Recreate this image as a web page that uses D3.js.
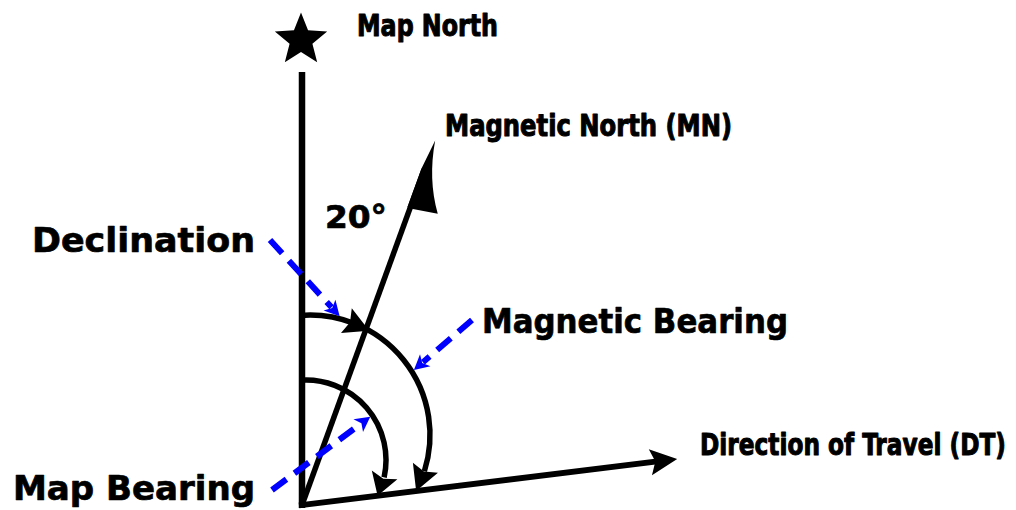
<!DOCTYPE html>
<html><head><meta charset="utf-8">
<script src="https://cdn.jsdelivr.net/npm/d3@7"></script>
<style>html,body{margin:0;padding:0;background:#fff;overflow:hidden}</style>
</head><body>
<svg id="c" width="1016" height="510" xmlns="http://www.w3.org/2000/svg"></svg>
<script>
// ---------------- DATA ----------------
const directionNames = ["Map North", "Magnetic North (MN)", "Direction of Travel (DT)"];
const directionBearings = [0, 20, 83];          // degrees clockwise from map north
const angleNames = ["Declination", "Magnetic Bearing", "Map Bearing"];
const angleFrom = [0, 1, 0];                    // index into directions
const angleTo = [1, 2, 2];
const declinationLabel = "20°";

// ---------------- LAYOUT ----------------
const svg = d3.select("#c");
const O = [302, 505];
const rad = d3.scaleLinear().domain([0, 360]).range([0, 2 * Math.PI]);
const unit = b => [Math.sin(rad(b)), -Math.cos(rad(b))];
const perp = b => [Math.cos(rad(b)), Math.sin(rad(b))];
const lineLen = [433, 387, 378];
const line = d3.line();
const BLUE = "#0000ff";

function at(bi, a, n) {
  const u = unit(directionBearings[bi]), p = perp(directionBearings[bi]);
  const L = lineLen[bi];
  return [O[0] + (L + a) * u[0] + n * p[0], O[1] + (L + a) * u[1] + n * p[1]];
}

// Map north line + star
{
  const u = unit(directionBearings[0]);
  svg.append("path").attr("d", line([[O[0] - 3 * u[0], O[1] - 3 * u[1]], at(0, 0, 0)]))
    .attr("stroke", "#000").attr("stroke-width", 6.5).attr("fill", "none");
  const sc = [O[0] + (lineLen[0] + 32) * u[0] - 1, O[1] + (lineLen[0] + 32) * u[1]];
  const R = 27.5, ri = 12;
  const pts = d3.range(10).map(i => {
    const a = rad(i * 36), rr = i % 2 ? ri : R;
    return [sc[0] + rr * Math.sin(a), sc[1] - rr * Math.cos(a)];
  });
  svg.append("path").attr("d", line(pts) + "Z").attr("fill", "#000");
}
// Magnetic north line with harpoon head
{
  svg.append("path").attr("d", line([O, at(1, -30, 0)]))
    .attr("stroke", "#000").attr("stroke-width", 5.5).attr("fill", "none");
  const p = d3.path();
  const t = at(1, 1, 0.5), c = at(1, -38, 7), b = at(1, -67, 28);
  p.moveTo(t[0], t[1]);
  p.quadraticCurveTo(c[0], c[1], b[0], b[1]);
  [at(1, -71, 3), at(1, -71, -2.8), at(1, -30, -2.8)].forEach(q => p.lineTo(q[0], q[1]));
  p.closePath();
  svg.append("path").attr("d", p.toString()).attr("fill", "#000");
}
// Direction of travel line with arrow head
{
  const u = unit(directionBearings[2]);
  svg.append("path").attr("d", line([[O[0] - 3 * u[0], O[1] - 3 * u[1]], at(2, -20, 0)]))
    .attr("stroke", "#000").attr("stroke-width", 6).attr("fill", "none");
  svg.append("path").attr("d", line([at(2, 0, 0), at(2, -27, 13), at(2, -22, 0), at(2, -27, -13)]) + "Z")
    .attr("fill", "#000");
}

// ---------------- ARCS ----------------
const arcDefs = [
  { C: [310, 435], r: 120, heads: [1, 2], hl: 25, hw: 13.5 },   // declination + magnetic bearing
  { C: [306, 460], r: 80, heads: [2], hl: 22, hw: 13.5 }         // map bearing
];
function hit(C, r, b) {
  const d = unit(b);
  const ox = O[0] - C[0], oy = O[1] - C[1];
  const bb = ox * d[0] + oy * d[1], cc = ox * ox + oy * oy - r * r;
  const t = -bb + Math.sqrt(bb * bb - cc);
  const P = [O[0] + t * d[0], O[1] + t * d[1]];
  return Math.atan2(P[0] - C[0], -(P[1] - C[1]));
}
const onArc = (C, r, th) => [C[0] + r * Math.sin(th), C[1] - r * Math.cos(th)];

arcDefs.forEach(A => {
  const th0 = hit(A.C, A.r, directionBearings[0]) - 0.02;
  const thEndTip = hit(A.C, A.r, directionBearings[A.heads[A.heads.length - 1]]);
  const thEnd = thEndTip - A.hl / A.r + 0.03;
  const p = d3.path();
  p.arc(A.C[0], A.C[1], A.r, th0 - Math.PI / 2, thEnd - Math.PI / 2, false);
  svg.append("path").attr("d", p.toString()).attr("stroke", "#000")
    .attr("stroke-width", 5.5).attr("fill", "none");
  A.heads.forEach(h => {
    const tt = hit(A.C, A.r, directionBearings[h]) + (h === 1 ? 0.03 : 0);
    const tip = onArc(A.C, A.r, tt);
    const base = onArc(A.C, A.r, tt - A.hl / A.r);
    let dx = tip[0] - base[0], dy = tip[1] - base[1];
    const L = Math.hypot(dx, dy); dx /= L; dy /= L;
    const nx = -dy, ny = dx;
    svg.append("path").attr("d", line([
      tip,
      [base[0] + nx * A.hw, base[1] + ny * A.hw],
      [base[0] + dx * 4, base[1] + dy * 4],
      [base[0] - nx * A.hw, base[1] - ny * A.hw]
    ]) + "Z").attr("fill", "#000");
  });
});

// ---------------- LEADERS (blue) ----------------
const leaders = [
  { start: [270, 240], arc: 0, th: 14, off: 2.5 },
  { start: [472, 320], arc: 0, th: 58, off: 2.5 },
  { start: [272, 490], arc: 1, th: 56, off: -2.5 }
];
leaders.forEach(Ld => {
  const A = arcDefs[Ld.arc];
  const tip = onArc(A.C, A.r + Ld.off, rad(Ld.th));
  let dx = tip[0] - Ld.start[0], dy = tip[1] - Ld.start[1];
  const L = Math.hypot(dx, dy); dx /= L; dy /= L;
  const nx = -dy, ny = dx;
  const hl = 15, hw = 8;
  const end = [tip[0] - dx * (hl - 3), tip[1] - dy * (hl - 3)];
  svg.append("path").attr("d", line([Ld.start, end]))
    .attr("stroke", BLUE).attr("stroke-width", 6).attr("stroke-dasharray", "18,10").attr("fill", "none");
  const b = [tip[0] - dx * hl, tip[1] - dy * hl];
  svg.append("path").attr("d", line([
    tip, [b[0] + nx * hw, b[1] + ny * hw], [b[0] + dx * 4, b[1] + dy * 4], [b[0] - nx * hw, b[1] - ny * hw]
  ]) + "Z").attr("fill", BLUE);
});

// ---------------- TEXT ----------------
// narrow labels: smaller font stretched vertically so the natural width fits
const narrow = { fam: "'Liberation Sans Narrow','DejaVu Sans Condensed','DejaVu Sans',sans-serif", size: 24, sy: 31 / 24, sw: 0.8 };
const wide = { fam: "'DejaVu Sans','Liberation Sans',sans-serif", size: 34, sy: 1, sw: 0.7 };
const texts = [
  { t: directionNames[0], x: 357, y: 36, w: 141, f: narrow },
  { t: directionNames[1], x: 445, y: 136, w: 287, f: narrow },
  { t: directionNames[2], x: 700, y: 455, w: 306, f: narrow },
  { t: angleNames[0], x: 32, y: 252, w: 223, f: wide },
  { t: angleNames[1], x: 482, y: 333, w: 306, f: wide },
  { t: angleNames[2], x: 13, y: 500, w: 242, f: wide },
  { t: declinationLabel, x: 325, y: 228, w: 62, f: { fam: wide.fam, size: 32, sy: 1, sw: 0.7 } }
];
svg.selectAll("text.lbl").data(texts).join("text").attr("class", "lbl")
  .attr("transform", d => `translate(${d.x},${d.y}) scale(1,${d.f.sy})`)
  .attr("x", 0).attr("y", 0)
  .attr("font-family", d => d.f.fam).attr("font-size", d => d.f.size)
  .attr("font-weight", "bold").attr("fill", "#000")
  .attr("stroke", "#000").attr("stroke-width", d => d.f.sw).attr("stroke-linejoin", "round")
  .style("font-stretch", d => d.f === narrow ? "condensed" : "normal")
  .attr("textLength", d => d.w).attr("lengthAdjust", "spacingAndGlyphs")
  .text(d => d.t);
</script>
</body></html>
